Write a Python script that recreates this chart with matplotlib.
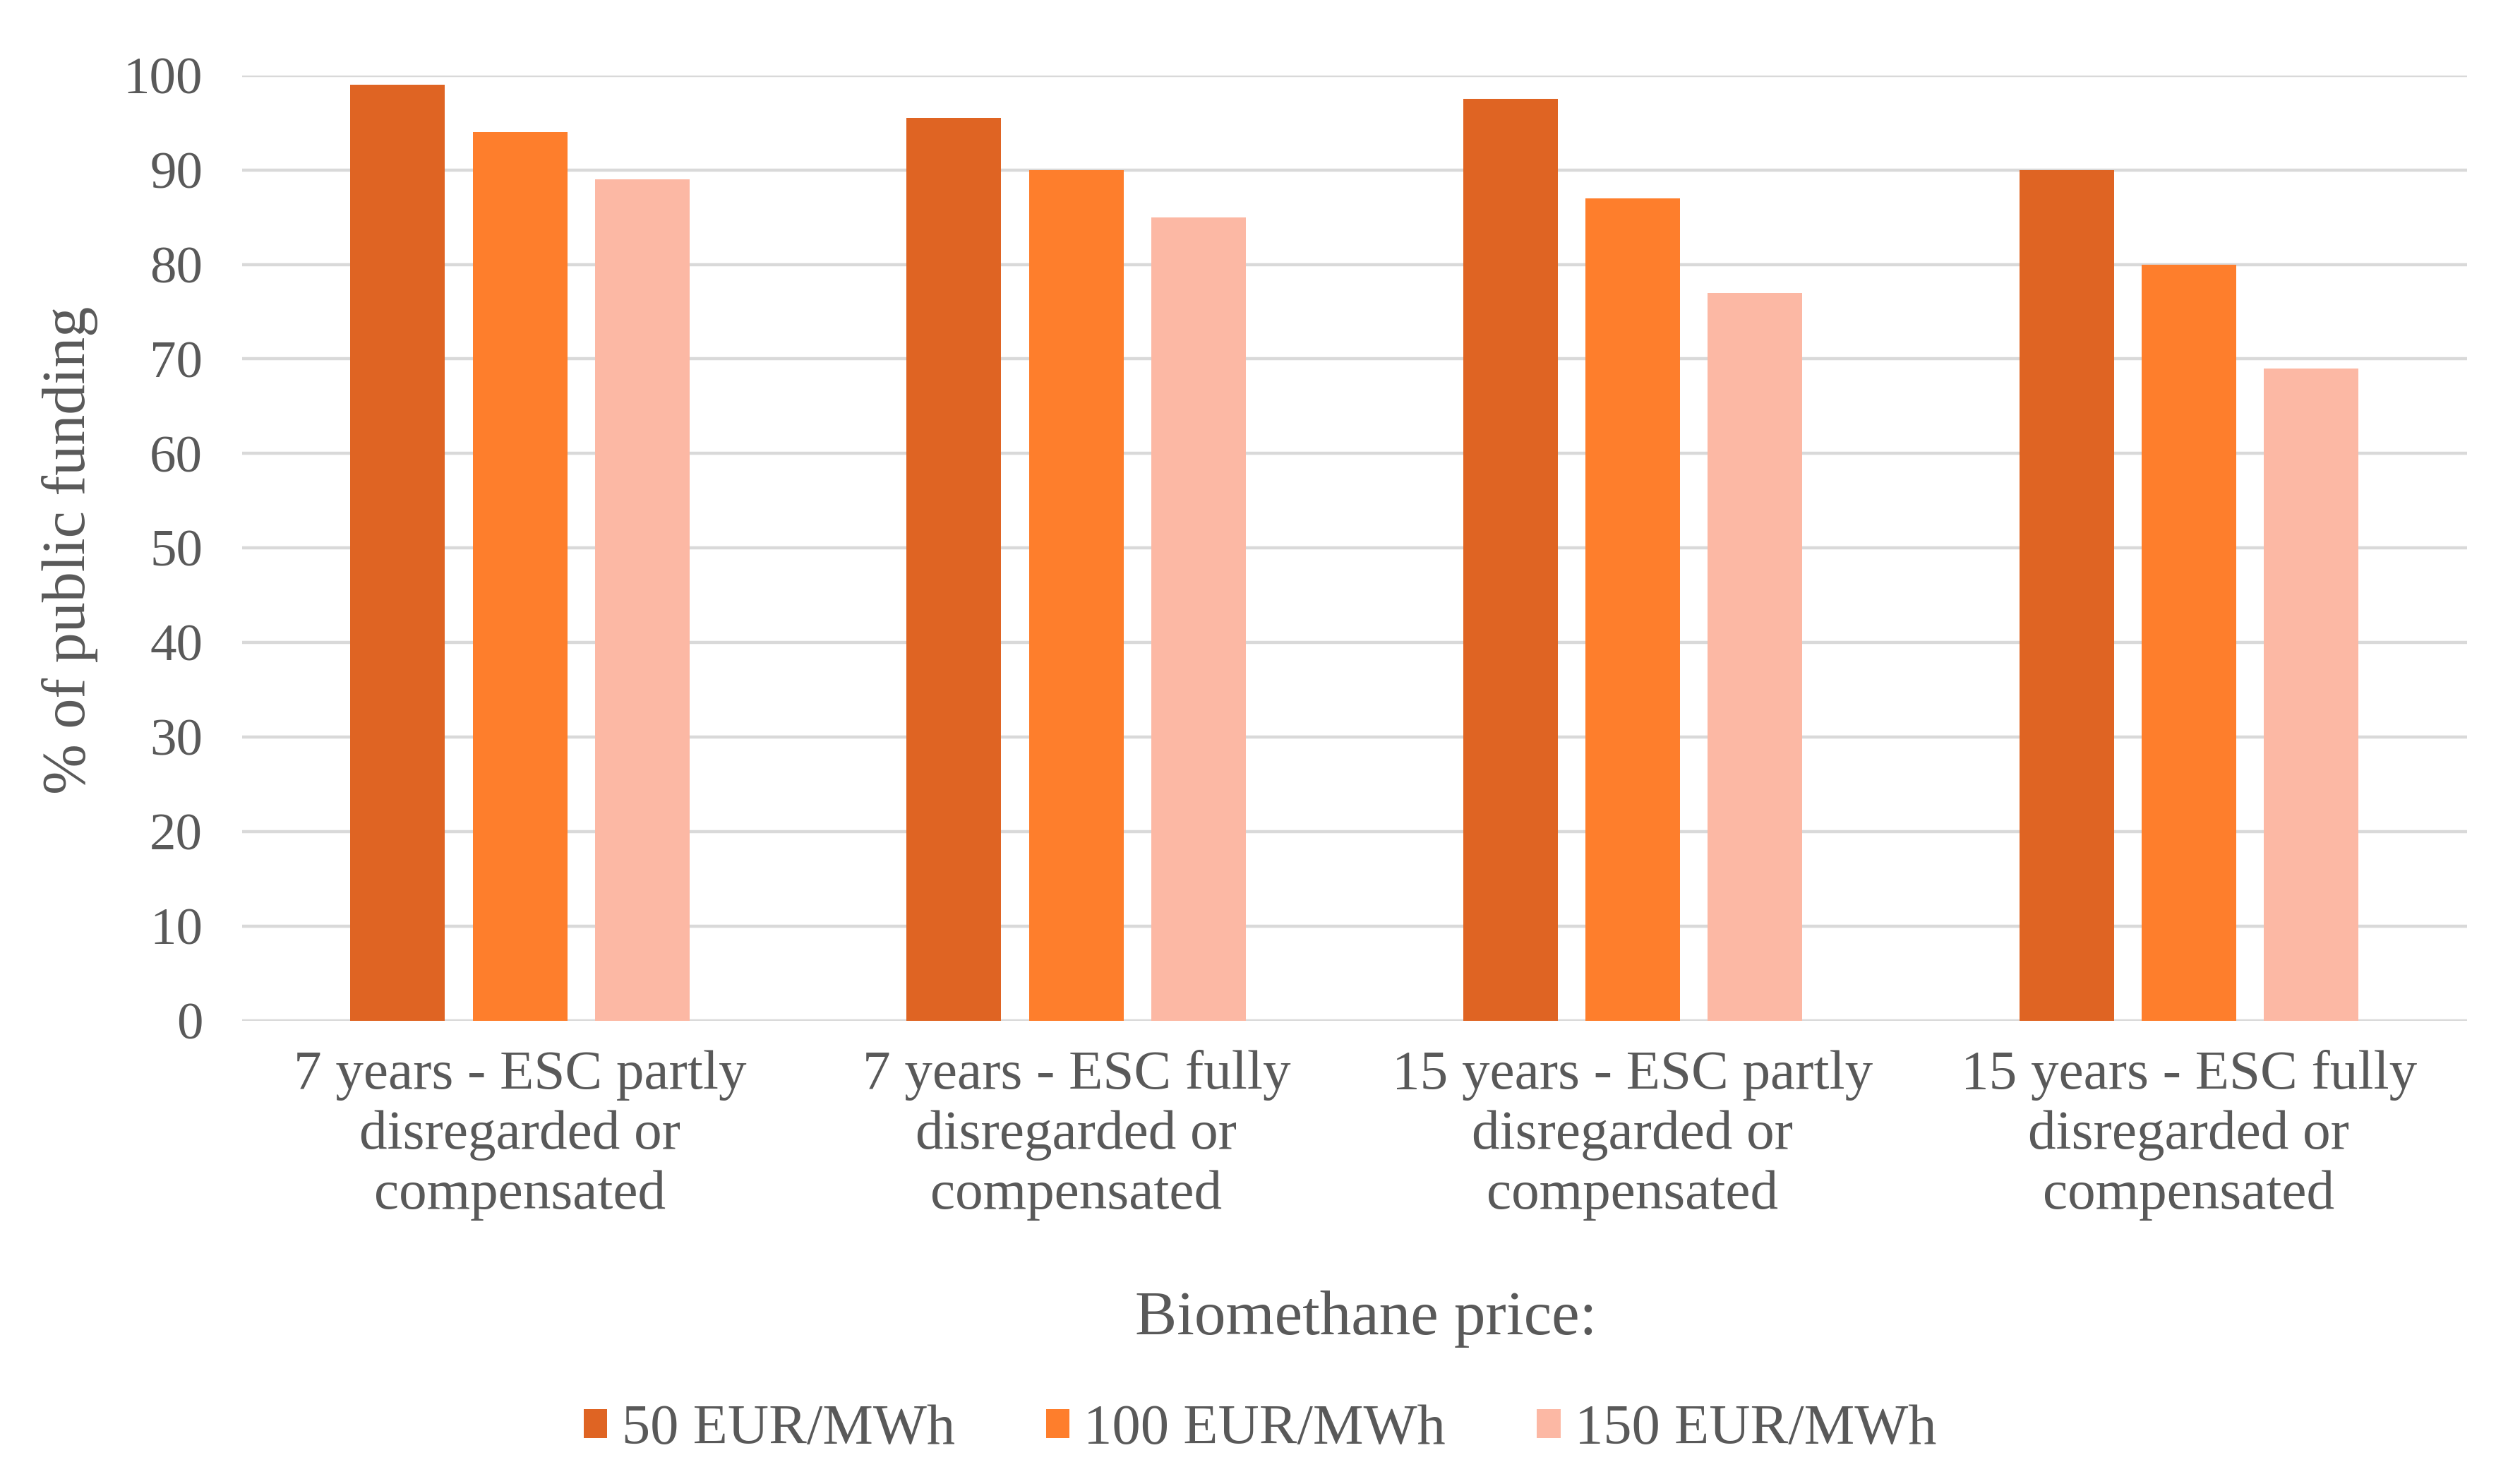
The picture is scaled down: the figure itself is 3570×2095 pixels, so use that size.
import matplotlib
matplotlib.use("Agg")
import matplotlib.pyplot as plt
import numpy as np

categories = ["7 years - ESC partly\ndisregarded or\ncompensated",
              "7 years - ESC fully\ndisregarded or\ncompensated",
              "15 years - ESC partly\ndisregarded or\ncompensated",
              "15 years - ESC fully\ndisregarded or\ncompensated"]
series_names = ["50 EUR/MWh", "100 EUR/MWh", "150 EUR/MWh"]
values_50 = [99, 95.5, 97.5, 90]
values_100 = [94, 90, 87, 80]
values_150 = [89, 85, 77, 69]
yticks = [0, 10, 20, 30, 40, 50, 60, 70, 80, 90, 100]

colors = ["#DF6423", "#FE7E2C", "#FCB8A4"]
text_color = "#595959"
plt.rcParams["font.family"] = ["Liberation Serif", "DejaVu Serif"]

fig = plt.figure(figsize=(35.7, 20.95), dpi=100)
ax = fig.add_axes([0.096, 0.310, 0.883, 0.639])

x = np.arange(len(categories))
width = 0.17
offsets = [-0.22, 0.0, 0.22]
for vals, off, c, name in zip([values_50, values_100, values_150], offsets, colors, series_names):
    ax.bar(x + off, vals, width, color=c, label=name, zorder=3)

ax.set_xlim(-0.5, len(categories) - 0.5)
ax.set_ylim(0, 100)
ax.set_yticks(yticks)
ax.yaxis.grid(True, color="#D9D9D9", linewidth=3.2, zorder=0)
ax.set_axisbelow(True)
for s in ax.spines.values():
    s.set_visible(False)
ax.axhline(0, color="#D9D9D9", linewidth=3.6, zorder=2)
ax.set_xticks(x)
ax.set_xticklabels(categories, linespacing=1.25)
ax.tick_params(axis="y", length=0, pad=40, labelsize=54, labelcolor=text_color)
ax.tick_params(axis="x", length=0, pad=30, labelsize=57, labelcolor=text_color)

fig.text(0.0276, 0.628, "% of public funding", rotation=90, ha="center", va="center",
         fontsize=62, color=text_color)

fig.text(0.542, 0.108, "Biomethane price:", ha="center", va="center", fontsize=64, color=text_color)

leg = fig.legend(loc="center", bbox_to_anchor=(0.5, 0.033), ncol=3, frameon=False,
                 fontsize=58, handlelength=0.42, handleheight=0.42, handletextpad=0.25,
                 columnspacing=1.6, labelcolor=text_color)

fig.savefig("out.png", dpi=100, facecolor="white")
